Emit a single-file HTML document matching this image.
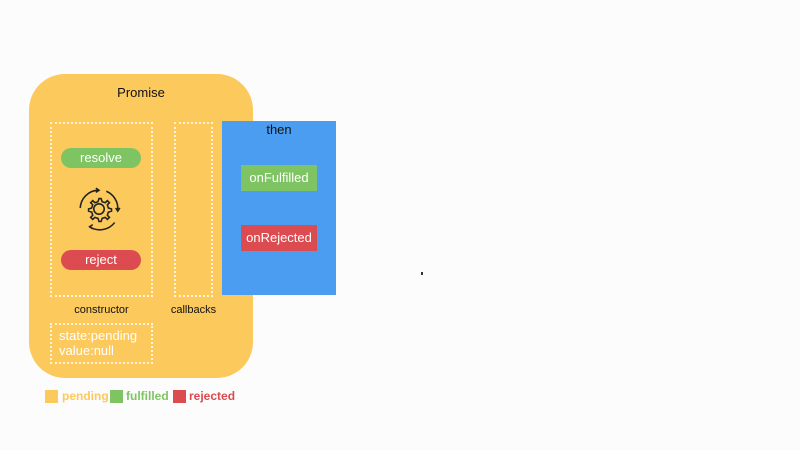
<!DOCTYPE html>
<html><head><style>
body{margin:0;width:800px;height:450px;background:#fcfcfc;position:relative;overflow:hidden;font-family:"Liberation Sans",sans-serif}
.a{position:absolute;box-sizing:border-box}
.dot{border:2px dotted #fff3d8}
.t{position:absolute;white-space:nowrap}
</style></head><body>
<div class="a" style="left:29px;top:74px;width:224px;height:304px;background:#fcc95c;border-radius:36px"></div>
<div class="t" style="left:29px;width:224px;text-align:center;top:85px;font-size:13px;color:#111">Promise</div>
<div class="a dot" style="left:50px;top:122px;width:103px;height:175px"></div>
<div class="a dot" style="left:174px;top:122px;width:39px;height:175px"></div>
<div class="a" style="left:61px;top:148px;width:80px;height:20px;background:#7ec462;border-radius:10px;color:#fff;font-size:13px;text-align:center;line-height:20px">resolve</div>
<div class="a" style="left:61px;top:250px;width:80px;height:20px;background:#dc4b50;border-radius:10px;color:#fff;font-size:13px;text-align:center;line-height:20px">reject</div>
<svg class="a" style="left:75px;top:185px" width="48" height="48" viewBox="0 0 46 46" fill="none" stroke="#222" stroke-width="1.5">
<circle cx="23" cy="23" r="5"/>
<path d="M23 13l2 0 1 3 3 1 2-2 2 2-2 2 1 3 3 1 0 2-3 1-1 3 2 2-2 2-2-2-3 1-1 3-2 0-1-3-3-1-2 2-2-2 2-2-1-3-3-1 0-2 3-1 1-3-2-2 2-2 2 2 3-1z"/>
<path d="M5 22a18 18 0 0 1 17-17"/><path d="M20 3l3 2-3 2"/>
<path d="M30 6a18 18 0 0 1 11 18"/><path d="M39 22l2 3 2-3"/>
<path d="M38 36a18 18 0 0 1-24 4"/><path d="M17 38l-3 2 3 2"/>
</svg>
<div class="t" style="left:50px;width:103px;text-align:center;top:304px;font-size:11px;color:#111">constructor</div>
<div class="t" style="left:155px;width:77px;text-align:center;top:304px;font-size:11px;color:#111">callbacks</div>
<div class="a dot" style="left:50px;top:323px;width:103px;height:41px"></div>
<div class="t" style="left:59px;top:328px;font-size:13px;color:#fff;line-height:15px">state:pending<br>value:null</div>
<div class="a" style="left:222px;top:121px;width:114px;height:174px;background:#4b9df2"></div>
<div class="t" style="left:222px;width:114px;text-align:center;top:122px;font-size:13px;color:#111">then</div>
<div class="a" style="left:241px;top:165px;width:76px;height:26px;background:#7ec462;color:#fff;font-size:13px;text-align:center;line-height:26px">onFulfilled</div>
<div class="a" style="left:241px;top:225px;width:76px;height:26px;background:#dc4b50;color:#fff;font-size:13px;text-align:center;line-height:26px">onRejected</div>
<div class="a" style="left:45px;top:390px;width:13px;height:13px;background:#fcc95c"></div>
<div class="t" style="left:62px;top:389px;font-size:12px;font-weight:bold;color:#fcc95c">pending</div>
<div class="a" style="left:110px;top:390px;width:13px;height:13px;background:#7ec462"></div>
<div class="t" style="left:126px;top:389px;font-size:12px;font-weight:bold;color:#7ec462">fulfilled</div>
<div class="a" style="left:173px;top:390px;width:13px;height:13px;background:#dc4b50"></div>
<div class="t" style="left:189px;top:389px;font-size:12px;font-weight:bold;color:#dc4b50">rejected</div>
<div class="a" style="left:421px;top:272px;width:2px;height:3px;background:#333"></div>
</body></html>
